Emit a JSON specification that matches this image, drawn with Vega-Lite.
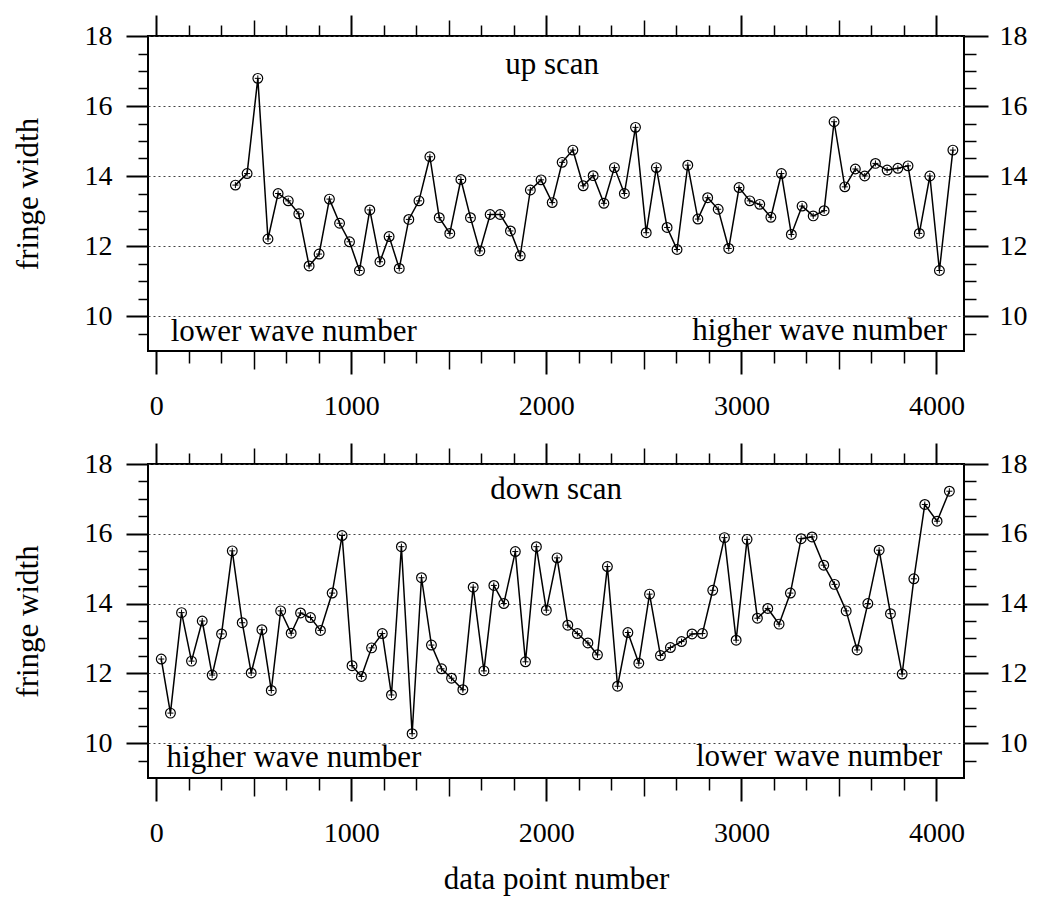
{
  "$schema": "https://vega.github.io/schema/vega-lite/v6.json",
  "padding": {"left": 11, "top": 13, "right": 5, "bottom": 5},
  "background": "white",
  "bounds": "flush",
  "spacing": 113,
  "config": {
    "view": {"stroke": "black", "strokeWidth": 2},
    "axis": {
      "labelFont": "Liberation Serif", "labelFontSize": 28, "labelColor": "black",
      "tickColor": "black", "tickWidth": 1.5, "domain": false, "grid": false,
      "titleFont": "Liberation Serif", "titleFontSize": 31, "titleFontWeight": "normal", "titleColor": "black",
      "labelFlush": false, "labelOverlap": false
    },
    "text": {"font": "Liberation Serif", "fontSize": 31, "color": "black"}
  },
  "datasets": {
    "up": [
      {"n":406,"w":13.74},{"n":466,"w":14.07},{"n":521,"w":16.79},{"n":573,"w":12.2},{"n":625,"w":13.5},{"n":677,"w":13.29},{"n":731,"w":12.92},{"n":784,"w":11.43},{"n":835,"w":11.77},{"n":888,"w":13.34},
      {"n":940,"w":12.65},{"n":991,"w":12.12},{"n":1042,"w":11.3},{"n":1095,"w":13.03},{"n":1147,"w":11.55},{"n":1194,"w":12.27},{"n":1246,"w":11.36},{"n":1295,"w":12.76},{"n":1347,"w":13.29},{"n":1403,"w":14.55},
      {"n":1451,"w":12.81},{"n":1505,"w":12.36},{"n":1562,"w":13.9},{"n":1611,"w":12.81},{"n":1659,"w":11.86},{"n":1712,"w":12.9},{"n":1763,"w":12.9},{"n":1816,"w":12.43},{"n":1866,"w":11.72},{"n":1918,"w":13.6},
      {"n":1973,"w":13.89},{"n":2030,"w":13.24},{"n":2081,"w":14.39},{"n":2136,"w":14.74},{"n":2189,"w":13.72},{"n":2240,"w":14.01},{"n":2295,"w":13.22},{"n":2349,"w":14.24},{"n":2400,"w":13.5},{"n":2457,"w":15.39},
      {"n":2512,"w":12.38},{"n":2564,"w":14.24},{"n":2619,"w":12.53},{"n":2670,"w":11.9},{"n":2725,"w":14.31},{"n":2777,"w":12.77},{"n":2827,"w":13.38},{"n":2881,"w":13.05},{"n":2935,"w":11.93},{"n":2988,"w":13.67},
      {"n":3043,"w":13.29},{"n":3094,"w":13.19},{"n":3151,"w":12.82},{"n":3205,"w":14.07},{"n":3256,"w":12.33},{"n":3311,"w":13.14},{"n":3368,"w":12.86},{"n":3424,"w":13.01},{"n":3475,"w":15.55},{"n":3530,"w":13.69},
      {"n":3584,"w":14.2},{"n":3632,"w":14.0},{"n":3687,"w":14.36},{"n":3747,"w":14.17},{"n":3802,"w":14.22},{"n":3854,"w":14.29},{"n":3912,"w":12.36},{"n":3966,"w":14.0},{"n":4015,"w":11.3},{"n":4084,"w":14.74}
    ],
    "down": [
      {"n":26,"w":12.41},{"n":73,"w":10.86},{"n":130,"w":13.74},{"n":181,"w":12.35},{"n":236,"w":13.5},{"n":287,"w":11.95},{"n":335,"w":13.13},{"n":390,"w":15.51},{"n":441,"w":13.45},{"n":487,"w":12.01},
      {"n":542,"w":13.25},{"n":590,"w":11.51},{"n":638,"w":13.79},{"n":692,"w":13.15},{"n":740,"w":13.73},{"n":791,"w":13.6},{"n":842,"w":13.23},{"n":902,"w":14.3},{"n":953,"w":15.95},{"n":1004,"w":12.22},
      {"n":1052,"w":11.91},{"n":1104,"w":12.73},{"n":1159,"w":13.14},{"n":1206,"w":11.38},{"n":1257,"w":15.63},{"n":1312,"w":10.27},{"n":1360,"w":14.74},{"n":1411,"w":12.81},{"n":1463,"w":12.13},{"n":1514,"w":11.86},
      {"n":1572,"w":11.53},{"n":1625,"w":14.47},{"n":1680,"w":12.07},{"n":1731,"w":14.52},{"n":1782,"w":14.0},{"n":1841,"w":15.49},{"n":1893,"w":12.33},{"n":1949,"w":15.63},{"n":2000,"w":13.81},{"n":2055,"w":15.31},
      {"n":2110,"w":13.38},{"n":2159,"w":13.14},{"n":2213,"w":12.87},{"n":2262,"w":12.53},{"n":2313,"w":15.06},{"n":2365,"w":11.63},{"n":2418,"w":13.17},{"n":2474,"w":12.29},{"n":2529,"w":14.27},{"n":2585,"w":12.51},
      {"n":2636,"w":12.74},{"n":2693,"w":12.91},{"n":2747,"w":13.13},{"n":2800,"w":13.14},{"n":2853,"w":14.38},{"n":2913,"w":15.89},{"n":2973,"w":12.95},{"n":3029,"w":15.84},{"n":3082,"w":13.58},{"n":3135,"w":13.86},
      {"n":3193,"w":13.41},{"n":3251,"w":14.3},{"n":3306,"w":15.86},{"n":3362,"w":15.91},{"n":3422,"w":15.1},{"n":3477,"w":14.55},{"n":3537,"w":13.79},{"n":3593,"w":12.67},{"n":3648,"w":14.0},{"n":3706,"w":15.53},
      {"n":3764,"w":13.71},{"n":3824,"w":11.98},{"n":3884,"w":14.71},{"n":3940,"w":16.84},{"n":4003,"w":16.36},{"n":4066,"w":17.22}
    ]
  },
  "vconcat": [
    {
      "width": 816, "height": 315,
      "resolve": {"axis": {"x": "independent", "y": "independent"}},
      "layer": [
        {
          "data": {"name": "up"},
          "mark": {"type": "line", "color": "black", "strokeWidth": 1.5},
          "encoding": {
            "x": {"field": "n", "type": "quantitative", "scale": {"domain": [-42, 4141], "nice": false, "zero": false},
                  "axis": {"orient": "bottom", "values": [0,1000,2000,3000,4000], "format": "d", "tickSize": 23, "tickWidth": 2, "labelPadding": 18, "title": null}},
            "y": {"field": "w", "type": "quantitative", "scale": {"domain": [9, 18], "nice": false, "zero": false},
                  "axis": {"orient": "left", "values": [10,12,14,16,18], "tickSize": 22, "tickWidth": 2, "labelPadding": 14, "title": "fringe width", "titlePadding": 40,
                           "grid": true, "gridDash": [2,3], "gridColor": "#444", "gridWidth": 1}}
          }
        },
        {
          "data": {"name": "up"},
          "mark": {"type": "point", "shape": "circle", "filled": false, "size": 95, "stroke": "black", "strokeWidth": 1.2, "opacity": 1},
          "encoding": {
            "x": {"field": "n", "type": "quantitative", "scale": {"domain": [-42, 4141], "nice": false, "zero": false},
                  "axis": {"orient": "bottom", "values": [500,1500,2500,3500], "tickSize": 18, "labels": false, "title": null}},
            "y": {"field": "w", "type": "quantitative", "scale": {"domain": [9, 18], "nice": false, "zero": false},
                  "axis": {"orient": "left", "values": [9.5,10.5,11,11.5,12.5,13,13.5,14.5,15,15.5,16.5,17,17.5], "tickSize": 10, "labels": false, "title": null}}
          }
        },
        {
          "data": {"name": "up"},
          "mark": {"type": "point", "shape": "M-1,0L1,0M0,-1L0,1", "filled": false, "size": 36, "stroke": "black", "strokeWidth": 1, "opacity": 1},
          "encoding": {
            "x": {"field": "n", "type": "quantitative", "scale": {"domain": [-42, 4141], "nice": false, "zero": false},
                  "axis": {"orient": "bottom", "values": [166.667,333.333,666.667,833.333,1166.667,1333.333,1666.667,1833.333,2166.667,2333.333,2666.667,2833.333,3166.667,3333.333,3666.667,3833.333], "tickSize": 12, "labels": false, "title": null}},
            "y": {"field": "w", "type": "quantitative", "scale": {"domain": [9, 18], "nice": false, "zero": false},
                  "axis": {"orient": "right", "values": [10,12,14,16,18], "tickSize": 24, "tickWidth": 2, "labelPadding": 11, "title": null}}
          }
        },
        {
          "data": {"values": [{"n": 2030, "w": 16.92, "label": "up scan"}]},
          "mark": {"type": "text", "align": "center", "baseline": "alphabetic"},
          "encoding": {
            "x": {"field": "n", "type": "quantitative", "scale": {"domain": [-42, 4141], "nice": false, "zero": false},
                  "axis": {"orient": "top", "values": [0,1000,2000,3000,4000], "tickSize": 21, "tickWidth": 2, "labels": false, "title": null}},
            "y": {"field": "w", "type": "quantitative", "scale": {"domain": [9, 18], "nice": false, "zero": false},
                  "axis": {"orient": "right", "values": [9.5,10.5,11,11.5,12.5,13,13.5,14.5,15,15.5,16.5,17,17.5], "tickSize": 12, "labels": false, "title": null}},
            "text": {"field": "label"}
          }
        },
        {
          "data": {"values": [{"n": 74, "w": 9.29, "label": "lower wave number"}]},
          "mark": {"type": "text", "align": "left", "baseline": "alphabetic"},
          "encoding": {
            "x": {"field": "n", "type": "quantitative", "scale": {"domain": [-42, 4141], "nice": false, "zero": false},
                  "axis": {"orient": "top", "values": [500,1500,2500,3500], "tickSize": 16, "labels": false, "title": null}},
            "y": {"field": "w", "type": "quantitative", "scale": {"domain": [9, 18], "nice": false, "zero": false}, "axis": null},
            "text": {"field": "label"}
          }
        },
        {
          "data": {"values": [{"n": 4054, "w": 9.31, "label": "higher wave number"}]},
          "mark": {"type": "text", "align": "right", "baseline": "alphabetic"},
          "encoding": {
            "x": {"field": "n", "type": "quantitative", "scale": {"domain": [-42, 4141], "nice": false, "zero": false},
                  "axis": {"orient": "top", "values": [166.667,333.333,666.667,833.333,1166.667,1333.333,1666.667,1833.333,2166.667,2333.333,2666.667,2833.333,3166.667,3333.333,3666.667,3833.333], "tickSize": 11, "labels": false, "title": null}},
            "y": {"field": "w", "type": "quantitative", "scale": {"domain": [9, 18], "nice": false, "zero": false}, "axis": null},
            "text": {"field": "label"}
          }
        }
      ]
    },
    {
      "width": 816, "height": 314,
      "resolve": {"axis": {"x": "independent", "y": "independent"}},
      "layer": [
        {
          "data": {"name": "down"},
          "mark": {"type": "line", "color": "black", "strokeWidth": 1.5},
          "encoding": {
            "x": {"field": "n", "type": "quantitative", "scale": {"domain": [-42, 4141], "nice": false, "zero": false},
                  "axis": {"orient": "bottom", "values": [0,1000,2000,3000,4000], "format": "d", "tickSize": 23, "tickWidth": 2, "labelPadding": 18, "title": "data point number", "titlePadding": 17}},
            "y": {"field": "w", "type": "quantitative", "scale": {"domain": [9, 18], "nice": false, "zero": false},
                  "axis": {"orient": "left", "values": [10,12,14,16,18], "tickSize": 22, "tickWidth": 2, "labelPadding": 14, "title": "fringe width", "titlePadding": 40,
                           "grid": true, "gridDash": [2,3], "gridColor": "#444", "gridWidth": 1}}
          }
        },
        {
          "data": {"name": "down"},
          "mark": {"type": "point", "shape": "circle", "filled": false, "size": 95, "stroke": "black", "strokeWidth": 1.2, "opacity": 1},
          "encoding": {
            "x": {"field": "n", "type": "quantitative", "scale": {"domain": [-42, 4141], "nice": false, "zero": false},
                  "axis": {"orient": "bottom", "values": [500,1500,2500,3500], "tickSize": 18, "labels": false, "title": null}},
            "y": {"field": "w", "type": "quantitative", "scale": {"domain": [9, 18], "nice": false, "zero": false},
                  "axis": {"orient": "left", "values": [9.5,10.5,11,11.5,12.5,13,13.5,14.5,15,15.5,16.5,17,17.5], "tickSize": 10, "labels": false, "title": null}}
          }
        },
        {
          "data": {"name": "down"},
          "mark": {"type": "point", "shape": "M-1,0L1,0M0,-1L0,1", "filled": false, "size": 36, "stroke": "black", "strokeWidth": 1, "opacity": 1},
          "encoding": {
            "x": {"field": "n", "type": "quantitative", "scale": {"domain": [-42, 4141], "nice": false, "zero": false},
                  "axis": {"orient": "bottom", "values": [166.667,333.333,666.667,833.333,1166.667,1333.333,1666.667,1833.333,2166.667,2333.333,2666.667,2833.333,3166.667,3333.333,3666.667,3833.333], "tickSize": 12, "labels": false, "title": null}},
            "y": {"field": "w", "type": "quantitative", "scale": {"domain": [9, 18], "nice": false, "zero": false},
                  "axis": {"orient": "right", "values": [10,12,14,16,18], "tickSize": 24, "tickWidth": 2, "labelPadding": 11, "title": null}}
          }
        },
        {
          "data": {"values": [{"n": 2050, "w": 17.01, "label": "down scan"}]},
          "mark": {"type": "text", "align": "center", "baseline": "alphabetic"},
          "encoding": {
            "x": {"field": "n", "type": "quantitative", "scale": {"domain": [-42, 4141], "nice": false, "zero": false},
                  "axis": {"orient": "top", "values": [0,1000,2000,3000,4000], "tickSize": 21, "tickWidth": 2, "labels": false, "title": null}},
            "y": {"field": "w", "type": "quantitative", "scale": {"domain": [9, 18], "nice": false, "zero": false},
                  "axis": {"orient": "right", "values": [9.5,10.5,11,11.5,12.5,13,13.5,14.5,15,15.5,16.5,17,17.5], "tickSize": 12, "labels": false, "title": null}},
            "text": {"field": "label"}
          }
        },
        {
          "data": {"values": [{"n": 53, "w": 9.31, "label": "higher wave number"}]},
          "mark": {"type": "text", "align": "left", "baseline": "alphabetic"},
          "encoding": {
            "x": {"field": "n", "type": "quantitative", "scale": {"domain": [-42, 4141], "nice": false, "zero": false},
                  "axis": {"orient": "top", "values": [500,1500,2500,3500], "tickSize": 16, "labels": false, "title": null}},
            "y": {"field": "w", "type": "quantitative", "scale": {"domain": [9, 18], "nice": false, "zero": false}, "axis": null},
            "text": {"field": "label"}
          }
        },
        {
          "data": {"values": [{"n": 4029, "w": 9.33, "label": "lower wave number"}]},
          "mark": {"type": "text", "align": "right", "baseline": "alphabetic"},
          "encoding": {
            "x": {"field": "n", "type": "quantitative", "scale": {"domain": [-42, 4141], "nice": false, "zero": false},
                  "axis": {"orient": "top", "values": [166.667,333.333,666.667,833.333,1166.667,1333.333,1666.667,1833.333,2166.667,2333.333,2666.667,2833.333,3166.667,3333.333,3666.667,3833.333], "tickSize": 11, "labels": false, "title": null}},
            "y": {"field": "w", "type": "quantitative", "scale": {"domain": [9, 18], "nice": false, "zero": false}, "axis": null},
            "text": {"field": "label"}
          }
        }
      ]
    }
  ]
}
